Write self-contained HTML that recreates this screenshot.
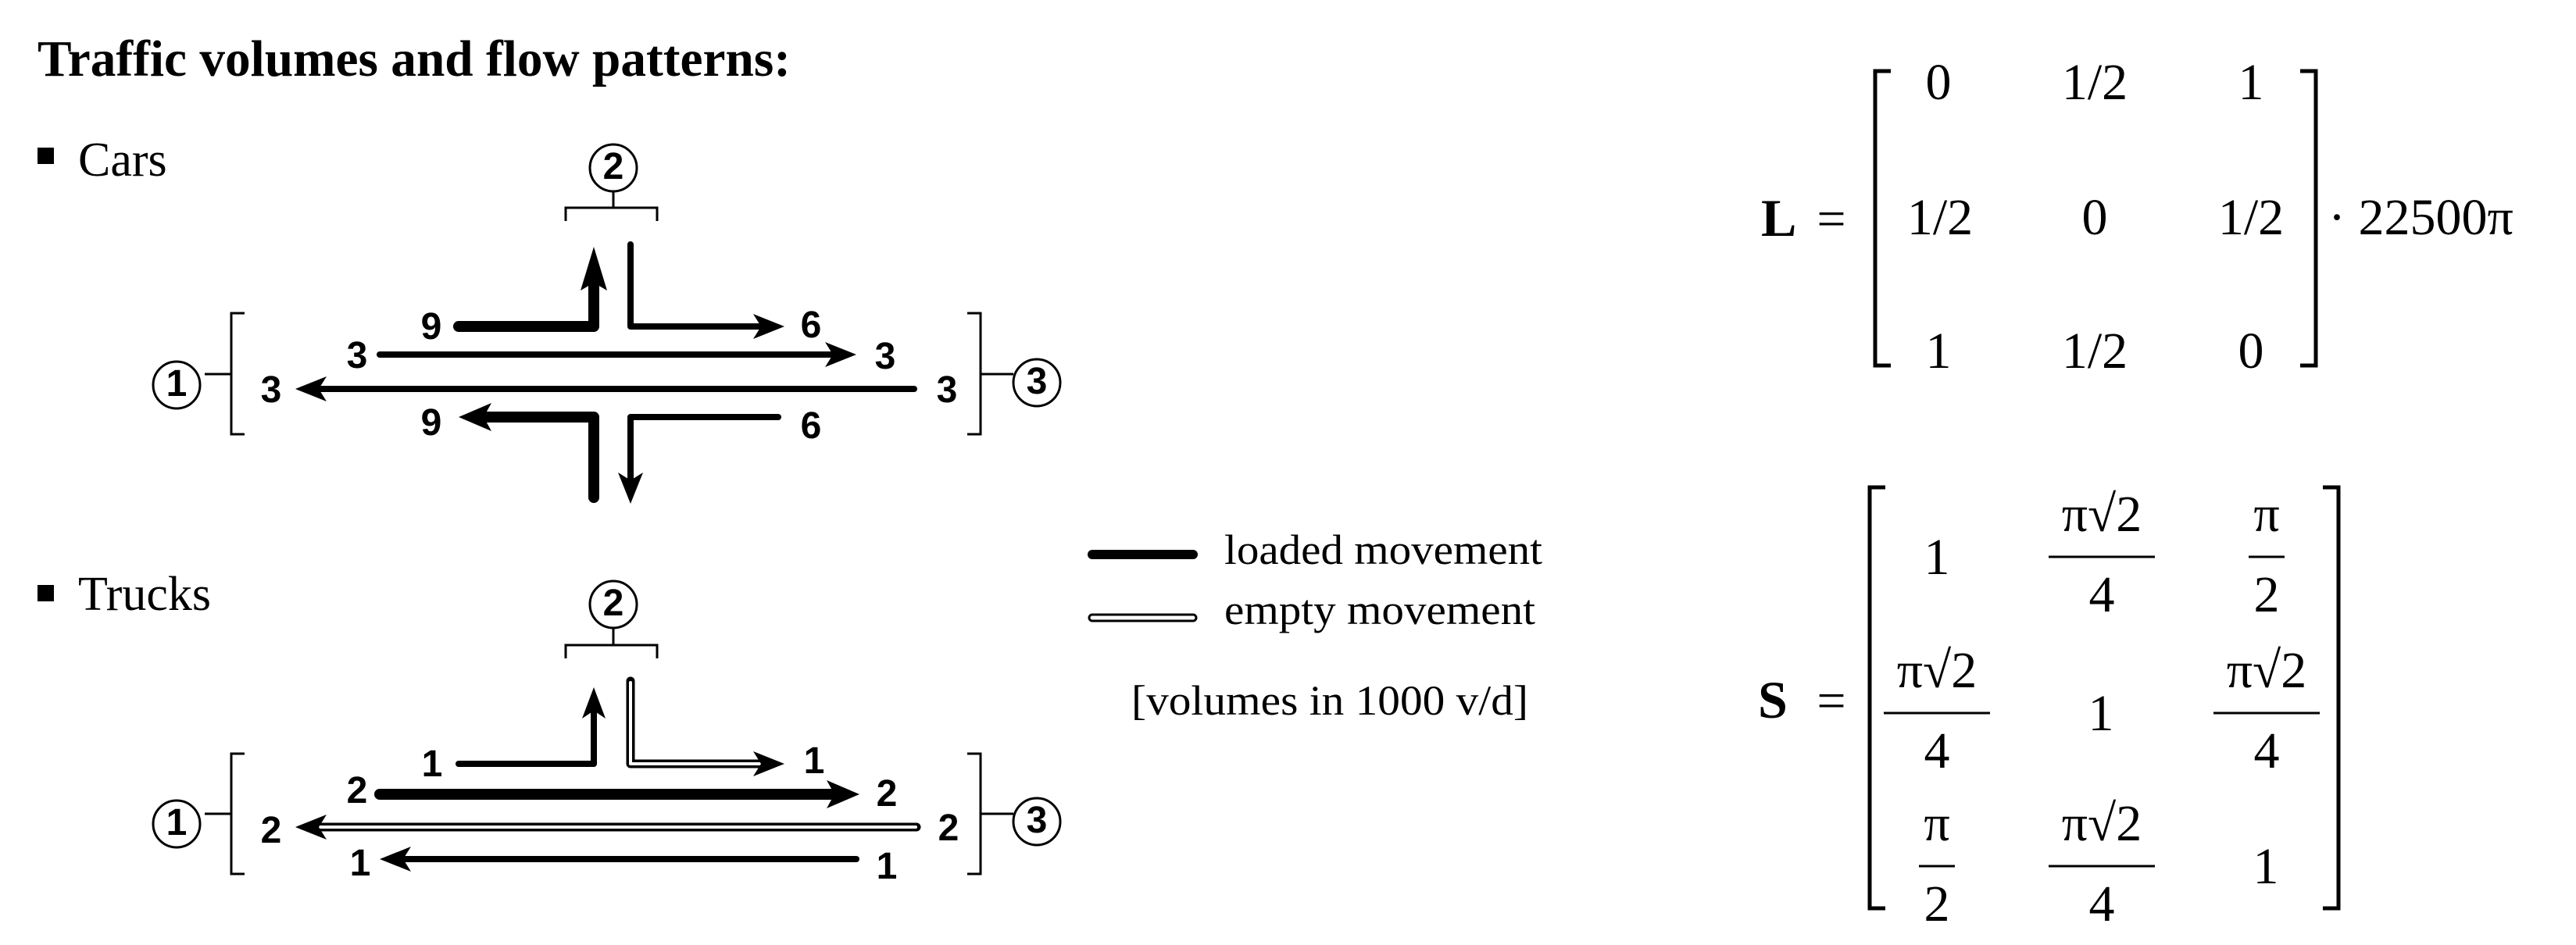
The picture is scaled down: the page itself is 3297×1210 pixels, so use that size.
<!DOCTYPE html>
<html><head><meta charset="utf-8"><style>
html,body{margin:0;padding:0;background:#fff;}
svg{display:block;}
.t{font-family:"Liberation Serif",serif;}
.n{font-family:"Liberation Sans",sans-serif;font-weight:bold;font-size:48px;text-anchor:middle;}
.m{font-family:"Liberation Serif",serif;font-size:66px;text-anchor:middle;}
</style></head><body>
<svg width="3297" height="1210" viewBox="0 0 3297 1210" xmlns="http://www.w3.org/2000/svg">
<rect width="3297" height="1210" fill="#fff"/>
<text class="t" x="48" y="97" font-size="66" font-weight="bold" textLength="964" lengthAdjust="spacingAndGlyphs">Traffic volumes and flow patterns:</text>
<rect x="48" y="189" width="21" height="21" fill="#000"/>
<text class="t" x="100" y="225" font-size="62">Cars</text>
<rect x="48" y="749" width="21" height="21" fill="#000"/>
<text class="t" x="100" y="781" font-size="62">Trucks</text>

<!-- legend -->
<line x1="1398" y1="710" x2="1527" y2="710" stroke="#000" stroke-width="12" stroke-linecap="round"/>
<line x1="1398" y1="791" x2="1527" y2="791" stroke="#000" stroke-width="11" stroke-linecap="round"/>
<line x1="1398" y1="791" x2="1527" y2="791" stroke="#fff" stroke-width="5" stroke-linecap="round"/>
<text class="t" x="1567" y="722" font-size="54" textLength="407" lengthAdjust="spacingAndGlyphs">loaded movement</text>
<text class="t" x="1567" y="799" font-size="54" textLength="398" lengthAdjust="spacingAndGlyphs">empty movement</text>
<text class="t" x="1448" y="915" font-size="54" textLength="508" lengthAdjust="spacingAndGlyphs">[volumes in 1000 v/d]</text>

<g fill="none" stroke="#000" stroke-width="3">
<circle cx="785" cy="215" r="30"/>
<path d="M785,245 V266 M724,283 V266 H841 V283"/>
<path d="M313,401 H296 V556 H313 M296,479 H262"/>
<circle cx="226" cy="493" r="30"/>
<path d="M1238,401 H1255 V556 H1238 M1255,479 H1297"/>
<circle cx="1327" cy="490" r="30"/>
<circle cx="785" cy="774" r="30"/>
<path d="M785,804 V826 M724,843 V826 H841 V843"/>
<path d="M313,965 H296 V1119 H313 M296,1042 H262"/>
<circle cx="226" cy="1055" r="30"/>
<path d="M1238,965 H1255 V1119 H1238 M1255,1042 H1297"/>
<circle cx="1327" cy="1052" r="30"/>
</g>
<g class="n" font-size="40">
<text x="785" y="229">2</text><text x="226" y="507">1</text><text x="1327" y="504">3</text>
<text x="785" y="788">2</text><text x="226" y="1069">1</text><text x="1327" y="1066">3</text>
</g>

<!-- cars flows -->
<g fill="none" stroke="#000" stroke-linejoin="round" stroke-linecap="round">
<path d="M587,418 H760 V362" stroke-width="14"/>
<path d="M807,313 V418 H976" stroke-width="8"/>
<path d="M486,454 H1068" stroke-width="8"/>
<path d="M1170,498 H404" stroke-width="8"/>
<path d="M760,637 V534 H615" stroke-width="14"/>
<path d="M996,534 H807 V617" stroke-width="8"/>
</g>
<g fill="#000">
<polygon points="760,316 743,372 760,362 777,372"/>
<polygon points="1004,418 964,402 974,418 964,434"/>
<polygon points="1096,454 1056,438 1066,454 1056,470"/>
<polygon points="378,498 418,482 408,498 418,514"/>
<polygon points="587,534 629,516 619,534 629,552"/>
<polygon points="807,645 791,605 807,615 823,605"/>
</g>
<g class="n">
<text x="552" y="434">9</text><text x="1038" y="432">6</text>
<text x="457" y="471">3</text><text x="1133" y="472">3</text>
<text x="347" y="515">3</text><text x="1212" y="515">3</text>
<text x="552" y="557">9</text><text x="1038" y="561">6</text>
</g>

<!-- trucks flows -->
<g fill="none" stroke="#000" stroke-linejoin="round" stroke-linecap="round">
<path d="M587,978 H760 V906" stroke-width="8"/>
<path d="M807,872 V978 H976" stroke-width="11"/>
<path d="M486,1017 H1070" stroke-width="14"/>
<path d="M1173,1059 H404" stroke-width="11"/>
<path d="M1096,1100 H515" stroke-width="8"/>
</g>
<g fill="none" stroke="#fff" stroke-linejoin="round" stroke-linecap="round" stroke-width="4">
<path d="M807,874 V978 H972"/>
<path d="M1172,1059 H410"/>
</g>
<g fill="#000">
<polygon points="760,880 745,920 760,910 775,920"/>
<polygon points="1004,978 964,962 974,978 964,994"/>
<polygon points="1100,1017 1058,999 1068,1017 1058,1035"/>
<polygon points="378,1059 418,1043 408,1059 418,1075"/>
<polygon points="486,1100 526,1084 516,1100 526,1116"/>
</g>
<g class="n">
<text x="553" y="994">1</text><text x="1042" y="990">1</text>
<text x="457" y="1028">2</text><text x="1135" y="1032">2</text>
<text x="347" y="1079">2</text><text x="1214" y="1076">2</text>
<text x="461" y="1121">1</text><text x="1135" y="1125">1</text>
</g>

<!-- L matrix -->
<text x="2254" y="302" font-family="Liberation Serif,serif" font-weight="bold" font-size="68">L</text>
<text x="2344" y="302" class="m" font-size="68">=</text>
<path d="M2420,91 H2400 V468 H2420 M2944,91 H2964 V468 H2944" fill="none" stroke="#000" stroke-width="5"/>
<g class="m">
<text x="2481" y="127">0</text><text x="2681" y="127">1/2</text><text x="2881" y="127">1</text>
<text x="2483" y="300">1/2</text><text x="2681" y="300">0</text><text x="2881" y="300">1/2</text>
<text x="2481" y="471">1</text><text x="2681" y="471">1/2</text><text x="2881" y="471">0</text>
</g>
<text x="2980" y="300" font-family="Liberation Serif,serif" font-size="66">· 22500π</text>

<!-- S matrix -->
<text x="2250" y="919" font-family="Liberation Serif,serif" font-weight="bold" font-size="68">S</text>
<text x="2344" y="919" class="m" font-size="68">=</text>
<path d="M2413,624 H2393 V1163 H2413 M2973,624 H2993 V1163 H2973" fill="none" stroke="#000" stroke-width="5"/>
<g stroke="#000" stroke-width="3">
<line x1="2622" y1="713" x2="2758" y2="713"/>
<line x1="2878" y1="713" x2="2924" y2="713"/>
<line x1="2411" y1="913" x2="2547" y2="913"/>
<line x1="2833" y1="913" x2="2969" y2="913"/>
<line x1="2456" y1="1109" x2="2502" y2="1109"/>
<line x1="2622" y1="1109" x2="2758" y2="1109"/>
</g>
<g class="m">
<text x="2479" y="735">1</text>
<text x="2690" y="680">π√2</text><text x="2690" y="783">4</text>
<text x="2901" y="680">π</text><text x="2901" y="783">2</text>
<text x="2479" y="880">π√2</text><text x="2479" y="983">4</text>
<text x="2689" y="935">1</text>
<text x="2901" y="880">π√2</text><text x="2901" y="983">4</text>
<text x="2479" y="1076">π</text><text x="2479" y="1179">2</text>
<text x="2690" y="1076">π√2</text><text x="2690" y="1179">4</text>
<text x="2900" y="1131">1</text>
</g>
</svg>
</body></html>
